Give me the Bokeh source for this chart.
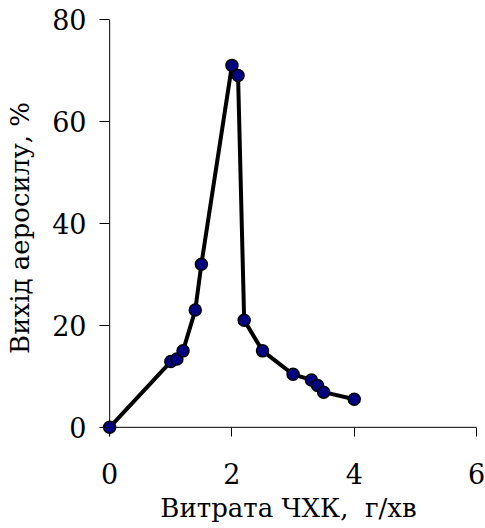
from bokeh.plotting import figure
from bokeh.models import Range1d, FixedTicker, Span
from bokeh.embed import file_html
from bokeh.resources import INLINE

# Data
flow_g_min = [0.0, 1.0, 1.1, 1.2, 1.4, 1.5, 2.0, 2.1, 2.2, 2.5, 3.0, 3.3, 3.4, 3.5, 4.0]
yield_pct = [0.0, 12.9, 13.4, 15.0, 23.0, 32.0, 71.0, 69.0, 21.0, 15.0, 10.4, 9.3, 8.2, 6.9, 5.5]
x_ticks = [0, 2, 4, 6]
y_ticks = [0, 20, 40, 60, 80]
x_title = "Витрата ЧХК,\u00a0 г/хв"
y_title = "Вихід аеросилу, %"

FONT = "DejaVu Serif"

p = figure(width=485, height=528, output_backend="svg", toolbar_location=None,
           x_range=Range1d(-0.15, 6), y_range=Range1d(-1.8, 80),
           min_border_left=100, min_border_right=9, min_border_top=19, min_border_bottom=92)
p.outline_line_color = None
p.xgrid.visible = False
p.ygrid.visible = False

# axis lines through the origin
p.add_layout(Span(location=0, dimension="width", line_color="black", line_width=1, level="underlay"))
p.add_layout(Span(location=0, dimension="height", line_color="black", line_width=1, level="underlay"))

p.line(flow_g_min, yield_pct, line_color="black", line_width=4, line_join="round")
p.scatter(flow_g_min, yield_pct, size=12, fill_color="#000080", line_color="black", line_width=1.5)

for ax in (p.xaxis[0], p.yaxis[0]):
    ax.axis_line_color = None
    ax.major_tick_line_color = "black"
    ax.minor_tick_line_color = None
    ax.major_label_text_font = FONT
    ax.major_label_text_font_size = "27px"
    ax.major_label_text_color = "black"
    ax.axis_label_text_font = FONT
    ax.axis_label_text_font_size = "26px"
    ax.axis_label_text_font_style = "normal"
    ax.axis_label_text_color = "black"

p.xaxis[0].ticker = FixedTicker(ticks=x_ticks)
p.yaxis[0].ticker = FixedTicker(ticks=y_ticks)
p.xaxis[0].major_tick_in = 9
p.xaxis[0].major_tick_out = 0
p.yaxis[0].major_tick_in = 9
p.yaxis[0].major_tick_out = 1
p.xaxis[0].major_label_standoff = 26
p.yaxis[0].major_label_standoff = 13
p.xaxis[0].axis_label = x_title
p.yaxis[0].axis_label = y_title
p.xaxis[0].axis_label_standoff = 6
p.yaxis[0].axis_label_standoff = 14

open("out.html", "w").write(file_html(p, INLINE))
